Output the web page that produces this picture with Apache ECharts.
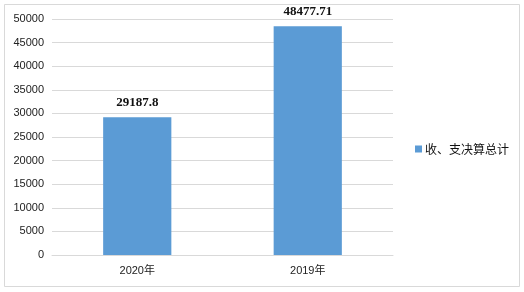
<!DOCTYPE html>
<html>
<head>
<meta charset="utf-8">
<script src="https://cdn.jsdelivr.net/npm/echarts@6/dist/echarts.min.js"></script>
<style>html,body{margin:0;padding:0;background:#fff;}#c{width:524px;height:292px;}</style>
</head>
<body>
<div id="c"></div>
<script>
const categories = ['2020年', '2019年'];
const seriesName = '收、支决算总计';
const values = [29187.8, 48477.71];
const yTicks = [0, 5000, 10000, 15000, 20000, 25000, 30000, 35000, 40000, 45000, 50000];

const chart = echarts.init(document.getElementById('c'), null, {renderer: 'canvas'});
chart.setOption({
  backgroundColor: '#ffffff',
  animation: false,
  graphic: [{
    type: 'rect',
    shape: {x: 4.5, y: 4.5, width: 515, height: 282},
    style: {fill: 'none', stroke: '#d9d9d9', lineWidth: 1},
    silent: true
  }],
  grid: {left: 52, right: 131, top: 19, bottom: 37, containLabel: false},
  legend: {
    data: [seriesName],
    orient: 'vertical',
    left: 410,
    top: 138,
    itemWidth: 7,
    itemHeight: 7,
    icon: 'rect',
    textStyle: {fontFamily: '"Noto Sans CJK SC"', fontSize: 12, color: '#111', fontWeight: 'normal', padding: [0, 0, 0, -2]}
  },
  xAxis: {
    type: 'category',
    data: categories,
    axisLine: {show: true, lineStyle: {color: '#d9d9d9'}},
    axisTick: {show: false},
    axisLabel: {margin: 10, fontSize: 11, color: '#222', fontFamily: '"Liberation Sans", "Noto Sans CJK SC"'}
  },
  yAxis: {
    type: 'value',
    min: yTicks[0],
    max: yTicks[yTicks.length - 1],
    interval: yTicks[1] - yTicks[0],
    axisLine: {show: false},
    axisTick: {show: false},
    splitLine: {lineStyle: {color: '#d9d9d9'}},
    axisLabel: {margin: 8, fontSize: 11, color: '#222', fontFamily: '"Liberation Sans"', formatter: function (v) { return String(v); }}
  },
  series: [{
    name: seriesName,
    type: 'bar',
    data: values,
    barWidth: '40%',
    itemStyle: {color: '#5b9bd5'},
    label: {
      show: true,
      position: 'top',
      distance: 8,
      fontSize: 13,
      fontWeight: 'bold',
      color: '#111',
      fontFamily: '"Liberation Serif"',
      formatter: function (p) { return String(p.value); }
    }
  }]
});
</script>
</body>
</html>
